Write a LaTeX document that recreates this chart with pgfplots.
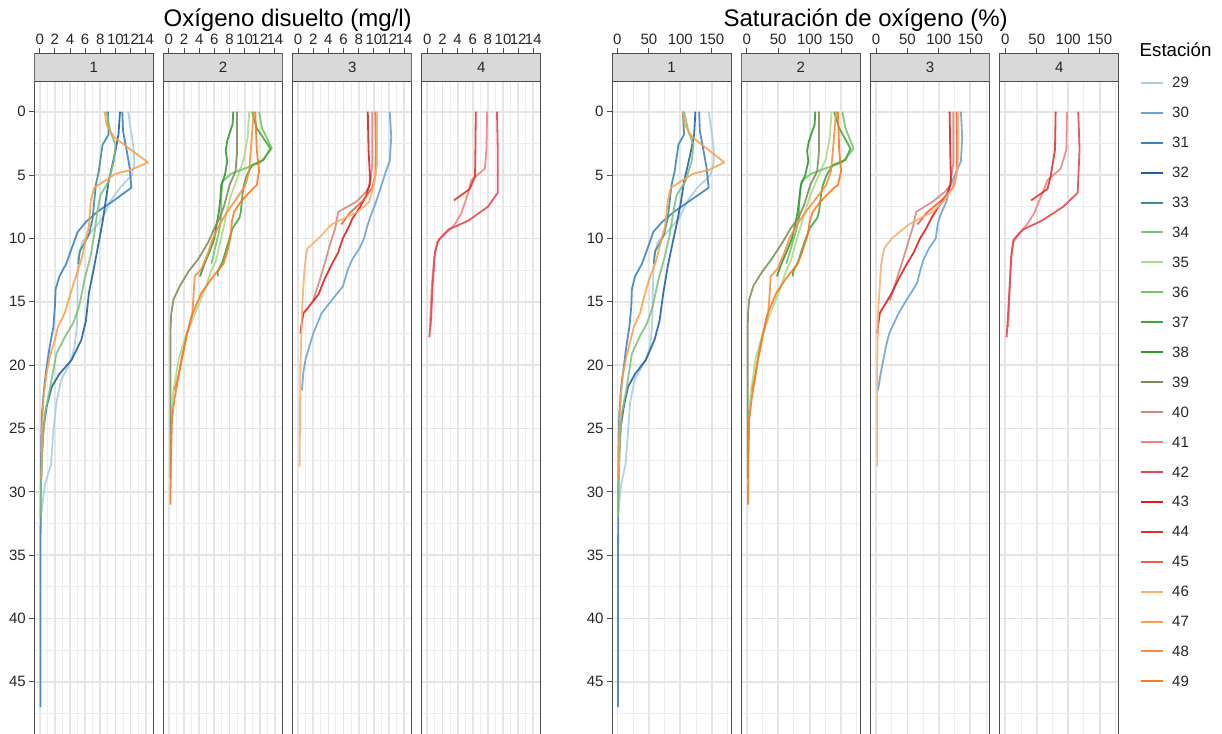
\documentclass[border=0pt]{standalone}
\usepackage{fontspec}
\setmainfont{Liberation Sans}
\usepackage{pgfplots}
\usepackage{pgfplotstable}
\pgfplotsset{compat=1.18}

% station colours
\definecolor{c29}{HTML}{A6CEE3}
\definecolor{c30}{HTML}{6BA3D6}
\definecolor{c31}{HTML}{3B7FC4}
\definecolor{c32}{HTML}{1F5FA0}
\definecolor{c33}{HTML}{3A8C9A}
\definecolor{c34}{HTML}{7CC27C}
\definecolor{c35}{HTML}{A8DC8A}
\definecolor{c36}{HTML}{74C365}
\definecolor{c37}{HTML}{3FA83A}
\definecolor{c38}{HTML}{2F9630}
\definecolor{c39}{HTML}{7F8C5A}
\definecolor{c40}{HTML}{D4877A}
\definecolor{c41}{HTML}{F47F7F}
\definecolor{c42}{HTML}{E8434F}
\definecolor{c43}{HTML}{E31A1C}
\definecolor{c44}{HTML}{E0302A}
\definecolor{c45}{HTML}{F0603C}
\definecolor{c46}{HTML}{FDAE6B}
\definecolor{c47}{HTML}{FD9F4A}
\definecolor{c48}{HTML}{FD8D3C}
\definecolor{c49}{HTML}{F87920}
\definecolor{stripgray}{HTML}{D9D9D9}
\definecolor{framegray}{HTML}{4D4D4D}

% d = depth, do = oxigeno disuelto (mg/l), sat = saturacion (%)
\pgfplotstableread{
d do sat
0 11.7 145
1 11.9 148
2 12.2 151
3 12.4 153
4 12.5 153
5 12.2 148
6 10.6 127
7 9.4 112
8.4 8.3 98
9.5 6.8 79
10.3 5.6 64
11.5 5.1 58
13 5.0 57
15 5.0 56
17 4.9 55
18.5 4.6 52
19.5 4.2 46
20.2 3.7 38
21.2 2.8 27
23 2.2 20
25.2 1.8 17
27.8 1.5 13
29.4 0.7 6
31.7 0.2 1
32 0.1 1
}\tbA % 29
\pgfplotstableread{
d do sat
0 12.1 135
2 12.3 137
3.9 12.1 135
4.7 11.6 128
6 10.9 117
7.1 10.3 112
8.2 9.6 102
8.9 9.2 98
10 8.7 95
10.8 8.1 84
11.6 7.2 76
12.4 6.6 71
13.4 6.1 66
13.8 5.9 62
14.9 4.4 48
15.9 3.1 36
17.5 2.0 21
18.5 1.5 16
19.5 1.0 12
20.5 0.7 8
22 0.5 3
}\tbB % 30
\pgfplotstableread{
d do sat
0 10.9 130
1.5 11.0 131
3.1 11.5 137
4.5 11.9 142
6 12.1 145
7 9.8 116
7.9 7.6 90
8.7 6.1 71
9.5 5.0 57
10.5 4.4 50
12 3.5 39
13 2.6 28
14 2.1 23
15.4 2.0 22
17 1.8 19
18.6 1.3 14
20.2 0.9 10
21.7 0.6 6
23.8 0.3 3
26 0.2 2
30 0.15 1.5
35 0.1 1
40 0.1 1
47 0.1 1
}\tbC % 31
\pgfplotstableread{
d do sat
0 10.6 124
1.8 10.4 122
3.1 10.0 117
4.2 9.6 112
5.5 9.1 106
7.1 8.7 101
8.7 8.3 95
10.3 7.8 88
12.2 7.2 80
14.3 6.5 73
16.5 6.1 67
18 5.5 59
19.6 4.2 45
20.7 2.6 28
21.7 1.6 17
23.3 0.9 10
25 0.5 5
27 0.3 3
29 0.2 2
}\tbD % 32
\pgfplotstableread{
d do sat
0 9.0 104
1.8 9.1 106
2.6 8.3 97
4.7 7.8 91
5.8 7.4 86
8.4 7.0 80
9.7 6.5 74
10.5 5.8 66
11 5.3 60
12 5.1 58
}\tbE % 33
\pgfplotstableread{
d do sat
0 8.8 106
1.6 9.35 113
2.6 10.0 121
3.9 9.8 118
5.5 9.1 108
6.6 8.0 94
7.9 7.6 89
9.7 7.2 83
11.3 6.75 76
13.3 5.9 65
15.4 5.2 56
16.7 4.4 47
17.8 3.3 35
19.1 2.2 23
20.4 1.8 19
22 1.3 14
23.8 0.7 7
26 0.4 4
29 0.2 2
32 0.1 1
}\tbF % 34
\pgfplotstableread{
d do sat
0 10.6 135
2 10.4 132
3.7 9.9 126
5.3 9.0 112
6.6 8.2 101
8 7.6 92
9.2 7.2 85
10.5 6.7 77
11.8 6.2 70
12.5 5.6 63
14 4.8 53
16 3.4 37
17.9 2.1 23
19.5 1.3 14
20.6 1.0 11
22 0.6 7
24 0.3 3
25 0.2 2
}\tbG % 35
\pgfplotstableread{
d do sat
0 11.9 152
1.3 12.3 157
2.9 13.6 170
4.0 12.1 152
4.9 8.2 102
5.5 7.1 87
6.6 6.9 84
8.4 6.9 83
9.5 6.6 78
10.5 6.2 72
11.5 5.8 66
12 5.6 63
}\tbH % 36
\pgfplotstableread{
d do sat
0 11.0 139
1.3 11.6 147
2.9 13.4 165
3.8 12.5 157
4.2 11.0 137
5 10.3 127
5.8 9.9 121
6.6 9.7 118
7.9 9.5 115
8.4 9.3 112
9.2 8.4 100
10 8.0 94
11 7.5 87
11.8 7.1 82
12.6 6.45 74
13 6.45 73
}\tbI % 37
\pgfplotstableread{
d do sat
0 8.5 109
1 8.4 108
2.3 7.7 99
3.1 7.5 96
3.9 7.7 98
5 7.4 93
5.8 6.9 86
6.8 6.8 84
7.9 6.6 81
8.9 6.3 77
10 6.0 72
11 5.4 64
12 4.7 55
13 4.1 48
}\tbJ % 38
\pgfplotstableread{
d do sat
0 9.0 115
3.1 9.0 115
4.7 8.8 112
5.8 8.0 101
7.4 7.3 91
8.4 6.7 82
9.2 6.0 70
10.3 5.2 57
11.6 3.9 40
12.6 2.6 25
13.7 1.5 11
14.8 0.6 4
16 0.3 2
17.4 0.2 1.5
20 0.2 1.5
25 0.2 1.5
29 0.2 1.5
}\tbK % 39
\pgfplotstableread{
d do sat
0 9.8 123
4 9.8 123
5.8 9.5 118
6.3 9.0 110
7.1 7.7 90
7.9 5.3 64
9.2 4.9 58
10.5 4.2 50
11.8 3.6 42
13.2 2.9 33
14.9 2.0 22
}\tbL % 40
\pgfplotstableread{
d do sat
0 7.9 98
3 7.8 97
4.5 7.6 88
5.4 5.8 67
6.4 5.4 59
8 4.5 46
9 3.5 33
9.6 2.4 22
10.3 1.3 13
11.6 0.9 9
13.7 0.6 7
16.3 0.4 5
17 0.4 4
}\tbM % 41
\pgfplotstableread{
d do sat
0 9.2 116
3 9.3 118
6.4 9.3 115
7.5 8.0 92
8.6 5.4 58
9.3 2.8 28
10.1 1.5 13
11.1 1.0 10
13.7 0.7 7
16.3 0.5 4
17.8 0.26 2
}\tbN % 42
\pgfplotstableread{
d do sat
0 9.2 117
3 9.3 118
5.3 9.5 119
5.8 9.4 118
6.6 9.0 112
7.6 8.1 98
8.4 7.2 88
9.2 6.6 80
10 5.9 70
11.1 5.3 60
12.1 4.4 48
13.2 3.5 36
14.4 2.7 24
15.4 1.4 12
15.9 0.7 6
17 0.4 3
17.5 0.3 2
}\tbO % 43
\pgfplotstableread{
d do sat
0 6.4 80
3 6.35 79
5.1 6.3 72
6.1 5.6 67
7.0 3.5 41
}\tbP % 44
\pgfplotstableread{
d do sat
0 10.2 128
3 10.3 129
5 10.2 128
6 9.8 122
7 8.6 104
8 6.8 80
8.9 5.7 66
}\tbQ % 45
\pgfplotstableread{
d do sat
0 10.4 131
4.2 10.4 130
5.8 10.0 125
7.1 9.4 107
7.9 7.9 90
8.4 6.1 70
8.9 4.4 52
10 2.7 25
10.8 1.2 13
12.1 0.9 8
13.7 0.7 6
16 0.5 3
20 0.3 2
28 0.2 2
}\tbR % 46
\pgfplotstableread{
d do sat
0 8.6 104
1.0 8.8 107
2.0 9.8 119
4.0 14.3 170
4.6 12.0 145
4.9 10.0 120
6.0 7.2 85
7.0 6.75 80
9.0 6.5 76
10.1 6.1 70
11.7 5.5 62
13.3 4.6 50
14.7 3.9 42
15.9 3.3 36
17.0 2.4 26
18.0 2.0 21
19.4 1.3 14
20.7 0.9 9
22.5 0.5 5
25 0.3 3
29 0.2 2
}\tbS % 47
\pgfplotstableread{
d do sat
0 11.2 142
3.1 10.8 137
4.7 10.6 134
5.8 10.1 126
6.8 9.0 111
7.9 7.7 94
8.9 6.7 80
10 5.8 68
11.1 5.2 60
12.4 4.3 49
13 3.4 38
14 3.3 37
16 3.1 34
17.5 2.4 26
19.4 1.7 18
21 1.2 13
22 0.7 8
}\tbT % 48
\pgfplotstableread{
d do sat
0 11.4 145
3 11.6 147
4.7 11.9 150
5.8 11.6 145
6 11.2 139
7.1 9.5 117
7.9 8.6 105
8.7 8.3 100
9.7 8.2 97
11.1 7.7 88
12 7.2 81
13.2 5.6 62
14.3 4.3 47
16.1 3.0 32
17.5 2.4 26
20.1 1.5 16
22.6 0.75 8
24.3 0.4 4
28 0.25 2.5
31 0.2 2
}\tbU % 49

\pgfplotsset{
  panel/.style={
    scale only axis, width=119pt, height=683.7pt, anchor=center,
    y dir=reverse, ymin=-4.61, ymax=49.35,
    axis line style={draw=framegray, line width=1pt},
    xticklabel pos=upper, xtick pos=upper, ytick pos=left,
    tick align=outside, major tick length=5pt, minor tick length=0pt,
    tick style={framegray, line width=0.9pt},
    ytick={0,5,...,45}, minor ytick={2.5,7.5,...,47.5},
    grid=both,
    major grid style={black!10, line width=1.8pt},
    minor grid style={black!7, line width=1pt},
    tick label style={font=\fontsize{15}{15}\selectfont, text=black!85},
    /pgf/number format/assume math mode=true,
    every axis plot/.append style={line width=1.8pt, opacity=0.88, line join=round, no markers},
  },
  dopanel/.style={xmin=-0.715, xmax=15.0, xtick={0,2,...,14}, minor xtick={1,3,...,13}},
  satpanel/.style={xmin=-8.6, xmax=180.6, xtick={0,50,100,150}, minor xtick={25,75,125,175}},
  rest/.style={yticklabels={}, ytick style={draw=none}},
}

% facet header: xmin, xmax, centre, label
\newcommand\strip[4]{%
  \draw[fill=stripgray, draw=framegray, line width=1pt] (axis cs:#1,-4.61) rectangle (axis cs:#2,-2.35);
  \node[font=\fontsize{15}{15}\selectfont, text=black!85] at (axis cs:#3,-3.48) {#4};
}

\newcommand\grpA[1]{%
  \addplot[c29] table[x=#1,y=d]{\tbA};
  \addplot[c31] table[x=#1,y=d]{\tbC};
  \addplot[c32] table[x=#1,y=d]{\tbD};
  \addplot[c33] table[x=#1,y=d]{\tbE};
  \addplot[c34] table[x=#1,y=d]{\tbF};
  \addplot[c47] table[x=#1,y=d]{\tbS};
}
\newcommand\grpB[1]{%
  \addplot[c35] table[x=#1,y=d]{\tbG};
  \addplot[c36] table[x=#1,y=d]{\tbH};
  \addplot[c37] table[x=#1,y=d]{\tbI};
  \addplot[c38] table[x=#1,y=d]{\tbJ};
  \addplot[c39] table[x=#1,y=d]{\tbK};
  \addplot[c48] table[x=#1,y=d]{\tbT};
  \addplot[c49] table[x=#1,y=d]{\tbU};
}
\newcommand\grpC[1]{%
  \addplot[c30] table[x=#1,y=d]{\tbB};
  \addplot[c40] table[x=#1,y=d]{\tbL};
  \addplot[c43] table[x=#1,y=d]{\tbO};
  \addplot[c45] table[x=#1,y=d]{\tbQ};
  \addplot[c46] table[x=#1,y=d]{\tbR};
}
\newcommand\grpD[1]{%
  \addplot[c41] table[x=#1,y=d]{\tbM};
  \addplot[c42] table[x=#1,y=d]{\tbN};
  \addplot[c44] table[x=#1,y=d]{\tbP};
}

% legend entry: label, row index
\newcommand\legitem[2]{%
  \pgfmathsetmacro\yy{-82.8-29.93*#2}
  \draw[draw=c#1, line width=2pt] (1141pt,\yy pt) -- (1163pt,\yy pt);
  \node[anchor=west, inner sep=0pt, font=\fontsize{15}{15}\selectfont, text=black!85] at (1172pt,\yy pt) {#1};
}

\begin{document}
\begin{tikzpicture}
% ---- oxigeno disuelto ----
\begin{axis}[panel, dopanel, at={(93.8pt,-395.15pt)}]
  \grpA{do}
  \strip{-0.715}{15.0}{7.14}{1}
\end{axis}
\begin{axis}[panel, dopanel, rest, at={(223.0pt,-395.15pt)}]
  \grpB{do}
  \strip{-0.715}{15.0}{7.14}{2}
\end{axis}
\begin{axis}[panel, dopanel, rest, at={(352.2pt,-395.15pt)}]
  \grpC{do}
  \strip{-0.715}{15.0}{7.14}{3}
\end{axis}
\begin{axis}[panel, dopanel, rest, at={(481.4pt,-395.15pt)}]
  \grpD{do}
  \strip{-0.715}{15.0}{7.14}{4}
\end{axis}
% ---- saturacion ----
\begin{axis}[panel, satpanel, at={(671.5pt,-395.15pt)}]
  \grpA{sat}
  \strip{-8.6}{180.6}{86}{1}
\end{axis}
\begin{axis}[panel, satpanel, rest, at={(800.8pt,-395.15pt)}]
  \grpB{sat}
  \strip{-8.6}{180.6}{86}{2}
\end{axis}
\begin{axis}[panel, satpanel, rest, at={(930.1pt,-395.15pt)}]
  \grpC{sat}
  \strip{-8.6}{180.6}{86}{3}
\end{axis}
\begin{axis}[panel, satpanel, rest, at={(1059.4pt,-395.15pt)}]
  \grpD{sat}
  \strip{-8.6}{180.6}{86}{4}
\end{axis}

\node[anchor=base, font=\fontsize{24}{24}\selectfont] at (287.7pt,-27pt) {Oxígeno disuelto (mg/l)};
\node[anchor=base, font=\fontsize{24}{24}\selectfont] at (865.7pt,-27pt) {Saturación de oxígeno (\%)};

% legend
\node[anchor=base west, inner sep=0pt, font=\fontsize{18.7}{18.7}\selectfont] at (1139.5pt,-57pt) {Estación};
\legitem{29}{0}
\legitem{30}{1}
\legitem{31}{2}
\legitem{32}{3}
\legitem{33}{4}
\legitem{34}{5}
\legitem{35}{6}
\legitem{36}{7}
\legitem{37}{8}
\legitem{38}{9}
\legitem{39}{10}
\legitem{40}{11}
\legitem{41}{12}
\legitem{42}{13}
\legitem{43}{14}
\legitem{44}{15}
\legitem{45}{16}
\legitem{46}{17}
\legitem{47}{18}
\legitem{48}{19}
\legitem{49}{20}

\pgfresetboundingbox
\useasboundingbox (0pt,0pt) rectangle (1222pt,-733pt);
\end{tikzpicture}
\end{document}
